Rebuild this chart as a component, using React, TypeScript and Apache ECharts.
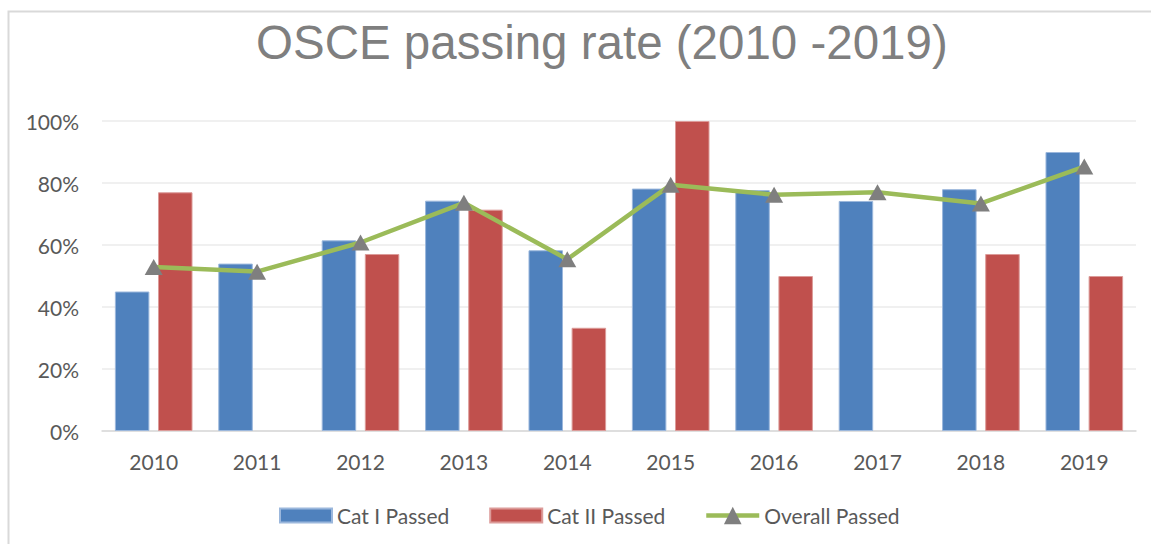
import React, { useEffect, useRef } from "react";
import * as echarts from "echarts";

const years = ["2010", "2011", "2012", "2013", "2014", "2015", "2016", "2017", "2018", "2019"];
const catIPassed = [45, 54, 61.5, 74.3, 58.3, 78.2, 77.7, 74.2, 78, 90];
const catIIPassed: (number | null)[] = [77, null, 57.1, 71.4, 33.3, 100, 50, null, 57.1, 50];
const overallPassed = [52.9, 51.4, 60.8, 73.6, 55.4, 79.4, 76.2, 77, 73.4, 85.3];
const yTicks = { min: 0, max: 100, interval: 20 };

const titleText = "OSCE passing rate (2010 -2019)";
const labelFont = "Lato, 'Open Sans', sans-serif";

export default function App() {
  const ref = useRef<HTMLDivElement>(null);
  useEffect(() => {
    if (!ref.current) return;
    const chart = echarts.init(ref.current, null, { renderer: "svg" });
    const legendText = { fontFamily: labelFont, fontSize: 21, color: "#595959" };
    chart.setOption({
      animation: false,
      backgroundColor: "#ffffff",
      title: {
        text: titleText,
        left: 256,
        top: 18,
        padding: 0,
        textStyle: {
          fontFamily: "'Liberation Sans', Arial, sans-serif",
          fontSize: 47.5,
          fontWeight: "normal",
          color: "#7f7f7f",
        },
      },
      graphic: [
        {
          type: "rect",
          shape: { x: 8.5, y: 11.5, width: 1200, height: 600 },
          style: { fill: "none", stroke: "#d9d9d9", lineWidth: 2 },
          silent: true,
          z: 0,
        },
      ],
      grid: { left: 102, right: 15, top: 121, bottom: 113, containLabel: false },
      legend: [
        {
          left: 279,
          top: 505,
          padding: 0,
          itemWidth: 52,
          itemHeight: 14,
          itemGap: 40,
          textStyle: legendText,
          data: [
            { name: "Cat I Passed", icon: "rect" },
            { name: "Cat II Passed", icon: "rect" },
          ],
        },
        {
          left: 704,
          top: 505,
          padding: 0,
          itemWidth: 53,
          itemHeight: 22,
          lineStyle: { width: 4.5, color: "#9bbb59" },
          textStyle: legendText,
          data: [{ name: "Overall Passed" }],
        },
      ],
      xAxis: {
        type: "category",
        data: years,
        axisLine: { lineStyle: { color: "#d9d9d9", width: 1.5 } },
        axisTick: { show: false },
        axisLabel: { fontFamily: labelFont, fontSize: 21, color: "#595959", margin: 20 },
      },
      yAxis: {
        type: "value",
        min: yTicks.min,
        max: yTicks.max,
        interval: yTicks.interval,
        axisLine: { show: false },
        axisTick: { show: false },
        splitLine: { lineStyle: { color: "#ebebeb", width: 1.5 } },
        axisLabel: { fontFamily: labelFont, fontSize: 21, color: "#595959", margin: 23, formatter: "{value}%" },
      },
      series: [
        {
          name: "Cat I Passed",
          type: "bar",
          data: catIPassed,
          barWidth: 34.5,
          barGap: "25%",
          itemStyle: { color: "#4f81bd", borderColor: "#9bb7dc", borderWidth: 1 },
          z: 2,
        },
        {
          name: "Cat II Passed",
          type: "bar",
          data: catIIPassed,
          barWidth: 34.5,
          barGap: "25%",
          itemStyle: { color: "#c0504d", borderColor: "#dc9b99", borderWidth: 1 },
          z: 2,
        },
        {
          name: "Overall Passed",
          type: "line",
          data: overallPassed,
          symbol: "triangle",
          symbolSize: [18, 16],
          lineStyle: { color: "#9bbb59", width: 4.5 },
          itemStyle: { color: "#7f7f7f" },
          z: 5,
        },
      ],
    });
    return () => chart.dispose();
  }, []);
  return (
    <div
      ref={ref}
      style={{ position: "fixed", left: 0, top: 0, width: 1151, height: 544 }}
    />
  );
}
